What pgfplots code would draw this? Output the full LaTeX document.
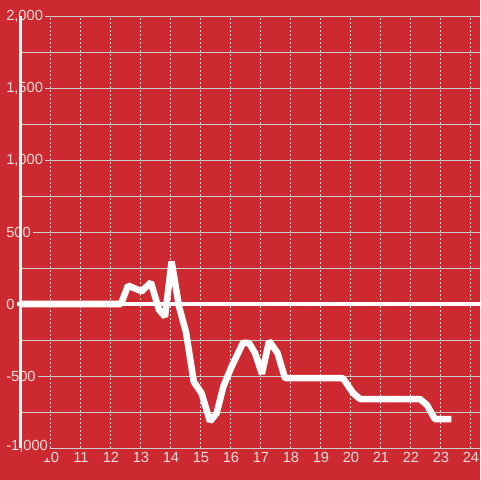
\documentclass[border=0pt]{standalone}
\usepackage{fontspec}
\setmainfont{Liberation Sans}
\usepackage{pgfplots}
\pgfplotsset{compat=1.18}
\definecolor{bgred}{RGB}{204,42,48}
\definecolor{txt}{RGB}{245,222,222}
\definecolor{gridc}{RGB}{205,205,205}
\definecolor{dotc}{RGB}{235,225,225}
\begin{document}
\begin{tikzpicture}
\useasboundingbox (0,0) rectangle (360pt,360pt);
\fill[bgred] (0,0) rectangle (360pt,360pt);
\begin{axis}[
  at={(15.75pt,24pt)}, anchor=south west,
  scale only axis, width=344.25pt, height=324pt,
  xmin=9, xmax=24.3, ymin=-1000, ymax=2000,
  clip=false,
  axis line style={draw=none},
  tick style={draw=none},
  major tick length=0pt, minor tick length=0pt,
  xtick={10,...,24},
  xticklabels={10,11,12,13,14,15,16,17,18,19,20,21,22,23,24},
  ytick={-1000,-500,0,500,1000,1500,2000},
  yticklabels={{\raisebox{4pt}{-1,000}},{-500},{0},{500},{1,000},{1,500},{2,000}},
  minor ytick={-750,-250,250,750,1250,1750},
  grid=both,
  major x grid style={dotc, line width=0.75pt, dash pattern=on 1.5pt off 1.5pt},
  major y grid style={gridc, line width=0.75pt},
  minor y grid style={gridc, line width=0.75pt},
  extra x ticks={9},
  extra x tick labels={},
  extra x tick style={grid=major, major x grid style={solid, white!93!gray, line width=2.25pt}},
  ticklabel style={font=\fontsize{11}{13}\selectfont, text=txt},
  yticklabel style={anchor=west, xshift=-12.75pt, fill=bgred, inner sep=1.5pt},
]
\addplot[white, line width=3.4pt, forget plot] coordinates {(8.87,0) (24.3,0)};
\addplot[white, line width=4.9pt, line join=bevel] coordinates {
(9,0) (12.33,0) (12.57,128) (13.02,88) (13.33,150) (13.6,-40) (13.8,-88)
(14.02,295) (14.27,-20) (14.5,-195) (14.76,-540) (15.02,-620) (15.3,-815)
(15.52,-759) (15.75,-570) (16.02,-435) (16.4,-270) (16.6,-270) (16.8,-340)
(17.03,-485) (17.27,-257) (17.55,-340) (17.8,-515) (19.73,-515) (20.07,-618)
(20.3,-660) (22.3,-660) (22.53,-701) (22.8,-800) (23.35,-800)
};
\end{axis}
\end{tikzpicture}
\end{document}
